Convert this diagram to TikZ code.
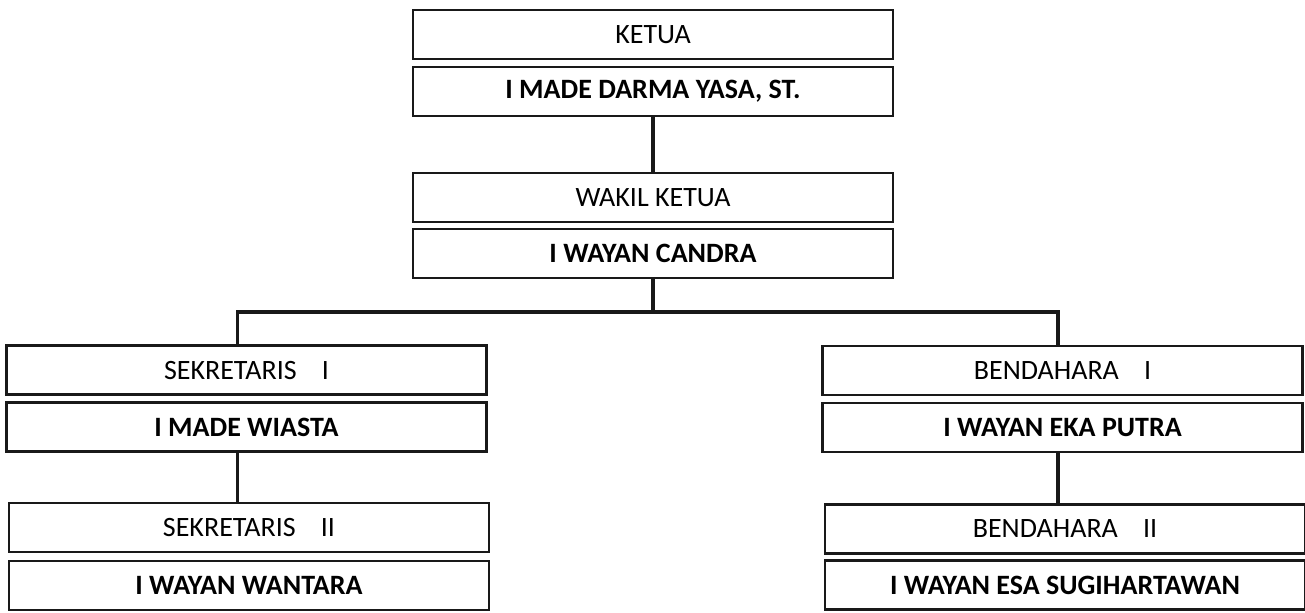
\documentclass[tikz,border=0pt]{standalone}
\usepackage{fontspec}
\setmainfont{Carlito}
\begin{document}
\begin{tikzpicture}[x=0.75pt,y=-0.75pt,
  box/.style={draw=black!90, line width=2.2pt, fill=white, inner sep=0pt,
    minimum width=360pt, minimum height=36.75pt, font=\fontsize{21}{24}\selectfont},
  namebox/.style={box, font=\bfseries\fontsize{21}{24}\selectfont},
  conn/.style={draw=black!90, line width=2.4pt}]
\useasboundingbox (0,0) rectangle (1305,612);
\node[box] (k1) at (653,34.5) {KETUA};
\node[namebox] (k2) at (653,91.5) {I MADE DARMA YASA, ST.};
\node[box] (w1) at (653,197.5) {WAKIL KETUA};
\node[namebox] (w2) at (653,253.5) {I WAYAN CANDRA};
\node[box] (s1) at (246.5,370) {SEKRETARIS\hspace{0.9em}I};
\node[namebox] (s2) at (246.5,427) {I MADE WIASTA};
\node[box] (s3) at (249,527.5) {SEKRETARIS\hspace{0.9em}II};
\node[namebox] (s4) at (249,585.5) {I WAYAN WANTARA};
\node[box] (b1) at (1062.5,370.5) {BENDAHARA\hspace{0.9em}I};
\node[namebox] (b2) at (1062.5,427.5) {I WAYAN EKA PUTRA};
\node[box] (b3) at (1065,529) {BENDAHARA\hspace{0.9em}II};
\node[namebox] (b4) at (1065,585) {I WAYAN ESA SUGIHARTAWAN};
\coordinate (jm) at (653,312);
\coordinate (jl) at (237.5,312);
\coordinate (jr) at (1058,312);
\draw[conn] (k2.south) -- (w1.north);
\draw[conn] (w2.south) -- (jm);
\draw[conn] (jl |- s1.north) -- (jl) -- (jr) -- (jr |- b1.north);
\draw[conn] (s2.south -| jl) -- (s3.north -| jl);
\draw[conn] (b2.south -| jr) -- (b3.north -| jr);
\end{tikzpicture}
\end{document}
